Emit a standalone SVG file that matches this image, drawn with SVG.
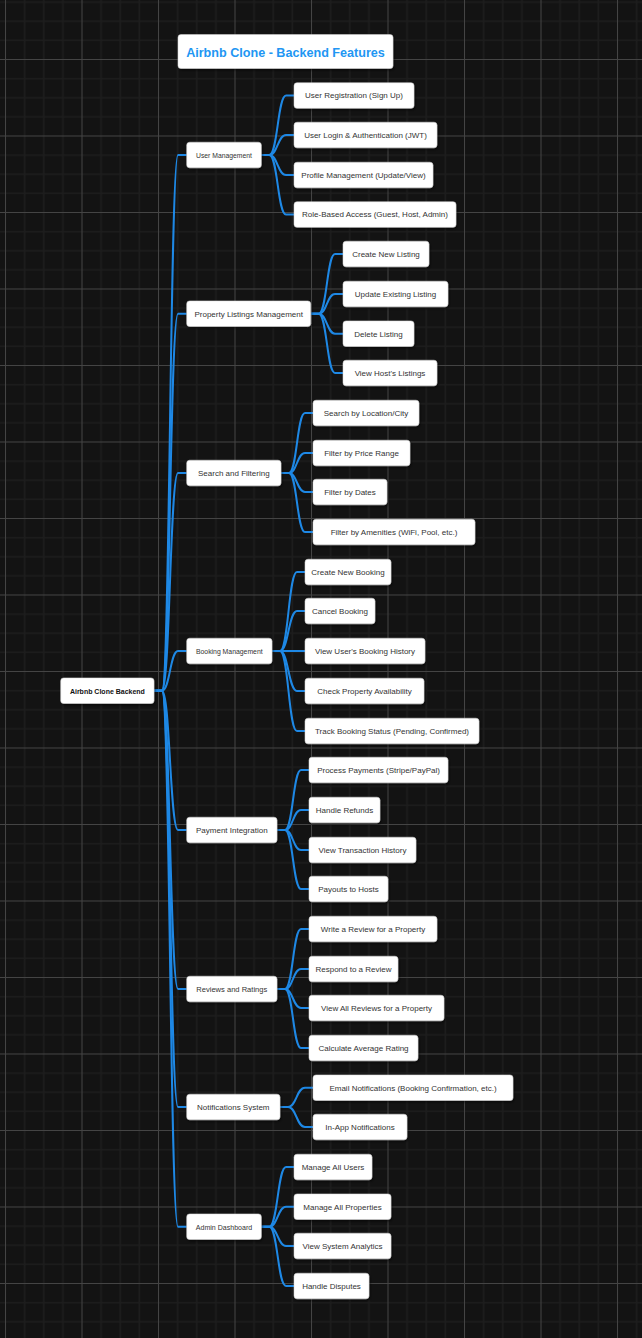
<svg xmlns="http://www.w3.org/2000/svg" width="642" height="1338" viewBox="0 0 642 1338">
<defs>
<pattern id="grid" x="5" y="59" width="76.5" height="76.5" patternUnits="userSpaceOnUse">
<path d="M19.6 0V76.5M38.75 0V76.5M57.9 0V76.5M0 19.6H76.5M0 38.75H76.5M0 57.9H76.5" stroke="#1d1d1d" stroke-width="1.6" fill="none"/>
<path d="M0.5 0V76.5M0 0.5H76.5" stroke="#444" stroke-width="1" fill="none"/>
</pattern>
<filter id="sh" x="-10%" y="-30%" width="125%" height="170%">
<feDropShadow dx="1" dy="1.5" stdDeviation="1.2" flood-color="#000" flood-opacity="0.6"/>
</filter>
<style>
.box{fill:#fff;stroke:#d0d0d0;stroke-width:0.5;filter:url(#sh)}
.t{font-family:"Liberation Sans",Arial,sans-serif;font-size:8px;fill:#333;text-anchor:middle}
.rt{font-family:"Liberation Sans",Arial,sans-serif;font-size:8px;font-weight:bold;fill:#111;text-anchor:middle}
.tt{font-family:"Liberation Sans",Arial,sans-serif;font-size:12.6px;font-weight:bold;fill:#2196f3;text-anchor:middle}
.ln{fill:none;stroke:#1e88e5;stroke-width:2}
</style>
</defs>
<rect width="642" height="1338" fill="#131313"/>
<rect width="642" height="1338" fill="url(#grid)"/>

<g id="connectors">
<path class="ln" d="M154 690.7H162C170 690.7 170 155 178 155H186.7"/>
<path class="ln" d="M154 690.7H162C170 690.7 170 313.7 178 313.7H186.7"/>
<path class="ln" d="M154 690.7H162C170 690.7 170 473 178 473H186.7"/>
<path class="ln" d="M154 690.7H162C170 690.7 170 651 178 651H186.7"/>
<path class="ln" d="M154 690.7H162C170 690.7 170 830 178 830H186.7"/>
<path class="ln" d="M154 690.7H162C170 690.7 170 989 178 989H186.7"/>
<path class="ln" d="M154 690.7H162C170 690.7 170 1107 178 1107H186.7"/>
<path class="ln" d="M154 690.7H162C170 690.7 170 1226.7 178 1226.7H186.7"/>

<path class="ln" d="M261.3 155H269.3C277.7 155 277.7 95.5 286 95.5H294"/>
<path class="ln" d="M261.3 155H269.3C277.7 155 277.7 135 286 135H294"/>
<path class="ln" d="M261.3 155H269.3C277.7 155 277.7 175 286 175H294"/>
<path class="ln" d="M261.3 155H269.3C277.7 155 277.7 214.5 286 214.5H294"/>

<path class="ln" d="M310.7 313.7H318.7C326.9 313.7 326.9 254 335 254H343"/>
<path class="ln" d="M310.7 313.7H318.7C326.9 313.7 326.9 294 335 294H343"/>
<path class="ln" d="M310.7 313.7H318.7C326.9 313.7 326.9 333.7 335 333.7H343"/>
<path class="ln" d="M310.7 313.7H318.7C326.9 313.7 326.9 373 335 373H343"/>

<path class="ln" d="M281 473H289C297 473 297 413 305 413H313"/>
<path class="ln" d="M281 473H289C297 473 297 453 305 453H313"/>
<path class="ln" d="M281 473H289C297 473 297 492 305 492H313"/>
<path class="ln" d="M281 473H289C297 473 297 532 305 532H313"/>

<path class="ln" d="M272 651H280C288.5 651 288.5 572 297 572H305"/>
<path class="ln" d="M272 651H280C288.5 651 288.5 611 297 611H305"/>
<path class="ln" d="M272 651H305"/>
<path class="ln" d="M272 651H280C288.5 651 288.5 691 297 691H305"/>
<path class="ln" d="M272 651H280C288.5 651 288.5 731 297 731H305"/>

<path class="ln" d="M277 830H285C293 830 293 770 301 770H309"/>
<path class="ln" d="M277 830H285C293 830 293 810 301 810H309"/>
<path class="ln" d="M277 830H285C293 830 293 850 301 850H309"/>
<path class="ln" d="M277 830H285C293 830 293 889 301 889H309"/>

<path class="ln" d="M277 989H285C293 989 293 929 301 929H309"/>
<path class="ln" d="M277 989H285C293 989 293 969 301 969H309"/>
<path class="ln" d="M277 989H285C293 989 293 1008 301 1008H309"/>
<path class="ln" d="M277 989H285C293 989 293 1048 301 1048H309"/>

<path class="ln" d="M280 1107H288C296.5 1107 296.5 1087.7 305 1087.7H313"/>
<path class="ln" d="M280 1107H288C296.5 1107 296.5 1127 305 1127H313"/>

<path class="ln" d="M261.3 1226.7H269.3C277.7 1226.7 277.7 1167 286 1167H294"/>
<path class="ln" d="M261.3 1226.7H269.3C277.7 1226.7 277.7 1206.7 286 1206.7H294"/>
<path class="ln" d="M261.3 1226.7H269.3C277.7 1226.7 277.7 1246 286 1246H294"/>
<path class="ln" d="M261.3 1226.7H269.3C277.7 1226.7 277.7 1286 286 1286H294"/>
</g>

<g id="title"><rect class="box" x="178" y="34.5" width="215" height="34" rx="3"/><text class="tt" x="285.5" y="56.8">Airbnb Clone - Backend Features</text></g>

<g id="root"><rect class="box" x="60.7" y="677.9" width="93.3" height="25.6" rx="3"/><text class="rt" x="107.4" y="693.6" textLength="75" lengthAdjust="spacingAndGlyphs">Airbnb Clone Backend</text></g>

<g id="n-user"><rect class="box" x="186.7" y="142.2" width="74.6" height="25.6" rx="3"/><text class="t" x="224" y="157.9" textLength="56" lengthAdjust="spacingAndGlyphs">User Management</text></g>
<g id="n-prop"><rect class="box" x="186.7" y="300.9" width="124" height="25.6" rx="3"/><text class="t" x="248.7" y="316.6">Property Listings Management</text></g>
<g id="n-search"><rect class="box" x="186.7" y="460.2" width="94.3" height="25.6" rx="3"/><text class="t" x="233.8" y="475.9">Search and Filtering</text></g>
<g id="n-book"><rect class="box" x="186.7" y="638.2" width="85.3" height="25.6" rx="3"/><text class="t" x="229.3" y="653.9" textLength="66.7" lengthAdjust="spacingAndGlyphs">Booking Management</text></g>
<g id="n-pay"><rect class="box" x="186.7" y="817.2" width="90.3" height="25.6" rx="3"/><text class="t" x="231.8" y="832.9">Payment Integration</text></g>
<g id="n-rev"><rect class="box" x="186.7" y="976.2" width="90.3" height="25.6" rx="3"/><text class="t" x="231.8" y="991.9" textLength="71" lengthAdjust="spacingAndGlyphs">Reviews and Ratings</text></g>
<g id="n-notif"><rect class="box" x="186.7" y="1094.2" width="93.3" height="25.6" rx="3"/><text class="t" x="233.3" y="1109.9">Notifications System</text></g>
<g id="n-admin"><rect class="box" x="186.7" y="1213.9" width="74.6" height="25.6" rx="3"/><text class="t" x="224" y="1229.6" textLength="56.3" lengthAdjust="spacingAndGlyphs">Admin Dashboard</text></g>

<g id="u1"><rect class="box" x="294" y="82.7" width="120" height="25.6" rx="3"/><text class="t" x="354" y="98.4">User Registration (Sign Up)</text></g>
<g id="u2"><rect class="box" x="294" y="122.2" width="143" height="25.6" rx="3"/><text class="t" x="365.5" y="137.9">User Login &amp; Authentication (JWT)</text></g>
<g id="u3"><rect class="box" x="294" y="162.2" width="139" height="25.6" rx="3"/><text class="t" x="363.5" y="177.9">Profile Management (Update/View)</text></g>
<g id="u4"><rect class="box" x="294" y="201.7" width="162" height="25.6" rx="3"/><text class="t" x="375" y="217.4">Role-Based Access (Guest, Host, Admin)</text></g>

<g id="p1"><rect class="box" x="343" y="241.2" width="86" height="25.6" rx="3"/><text class="t" x="386" y="256.9">Create New Listing</text></g>
<g id="p2"><rect class="box" x="343" y="281.2" width="105" height="25.6" rx="3"/><text class="t" x="395.5" y="296.9">Update Existing Listing</text></g>
<g id="p3"><rect class="box" x="343" y="320.9" width="71" height="25.6" rx="3"/><text class="t" x="378.5" y="336.6">Delete Listing</text></g>
<g id="p4"><rect class="box" x="343" y="360.2" width="94" height="25.6" rx="3"/><text class="t" x="390" y="375.9">View Host's Listings</text></g>

<g id="s1"><rect class="box" x="313" y="400.2" width="106" height="25.6" rx="3"/><text class="t" x="366" y="415.9">Search by Location/City</text></g>
<g id="s2"><rect class="box" x="313" y="440.2" width="97" height="25.6" rx="3"/><text class="t" x="361.5" y="455.9">Filter by Price Range</text></g>
<g id="s3"><rect class="box" x="313" y="479.2" width="74" height="25.6" rx="3"/><text class="t" x="350" y="494.9">Filter by Dates</text></g>
<g id="s4"><rect class="box" x="313" y="519.2" width="162" height="25.6" rx="3"/><text class="t" x="394" y="534.9">Filter by Amenities (WiFi, Pool, etc.)</text></g>

<g id="b1"><rect class="box" x="305" y="559.2" width="86" height="25.6" rx="3"/><text class="t" x="348" y="574.9">Create New Booking</text></g>
<g id="b2"><rect class="box" x="305" y="598.2" width="70" height="25.6" rx="3"/><text class="t" x="340" y="613.9">Cancel Booking</text></g>
<g id="b3"><rect class="box" x="305" y="638.2" width="120" height="25.6" rx="3"/><text class="t" x="365" y="653.9">View User's Booking History</text></g>
<g id="b4"><rect class="box" x="305" y="678.2" width="119" height="25.6" rx="3"/><text class="t" x="364.5" y="693.9">Check Property Availability</text></g>
<g id="b5"><rect class="box" x="305" y="718.2" width="174" height="25.6" rx="3"/><text class="t" x="392" y="733.9">Track Booking Status (Pending, Confirmed)</text></g>

<g id="y1"><rect class="box" x="309" y="757.2" width="139" height="25.6" rx="3"/><text class="t" x="378.5" y="772.9">Process Payments (Stripe/PayPal)</text></g>
<g id="y2"><rect class="box" x="309" y="797.2" width="71" height="25.6" rx="3"/><text class="t" x="344.5" y="812.9">Handle Refunds</text></g>
<g id="y3"><rect class="box" x="309" y="837.2" width="107" height="25.6" rx="3"/><text class="t" x="362.5" y="852.9">View Transaction History</text></g>
<g id="y4"><rect class="box" x="309" y="876.2" width="79" height="25.6" rx="3"/><text class="t" x="348.5" y="891.9">Payouts to Hosts</text></g>

<g id="r1"><rect class="box" x="309" y="916.2" width="128" height="25.6" rx="3"/><text class="t" x="373" y="931.9">Write a Review for a Property</text></g>
<g id="r2"><rect class="box" x="309" y="956.2" width="89" height="25.6" rx="3"/><text class="t" x="353.5" y="971.9">Respond to a Review</text></g>
<g id="r3"><rect class="box" x="309" y="995.2" width="135" height="25.6" rx="3"/><text class="t" x="376.5" y="1010.9">View All Reviews for a Property</text></g>
<g id="r4"><rect class="box" x="309" y="1035.2" width="109" height="25.6" rx="3"/><text class="t" x="363.5" y="1050.9">Calculate Average Rating</text></g>

<g id="nt1"><rect class="box" x="313" y="1074.9" width="200" height="25.6" rx="3"/><text class="t" x="413" y="1090.6">Email Notifications (Booking Confirmation, etc.)</text></g>
<g id="nt2"><rect class="box" x="313" y="1114.2" width="94" height="25.6" rx="3"/><text class="t" x="360" y="1129.9">In-App Notifications</text></g>

<g id="a1"><rect class="box" x="294" y="1154.2" width="78" height="25.6" rx="3"/><text class="t" x="333" y="1169.9">Manage All Users</text></g>
<g id="a2"><rect class="box" x="294" y="1193.9" width="97" height="25.6" rx="3"/><text class="t" x="342.5" y="1209.6">Manage All Properties</text></g>
<g id="a3"><rect class="box" x="294" y="1233.2" width="97" height="25.6" rx="3"/><text class="t" x="342.5" y="1248.9">View System Analytics</text></g>
<g id="a4"><rect class="box" x="294" y="1273.2" width="75" height="25.6" rx="3"/><text class="t" x="331.5" y="1288.9">Handle Disputes</text></g>
</svg>
